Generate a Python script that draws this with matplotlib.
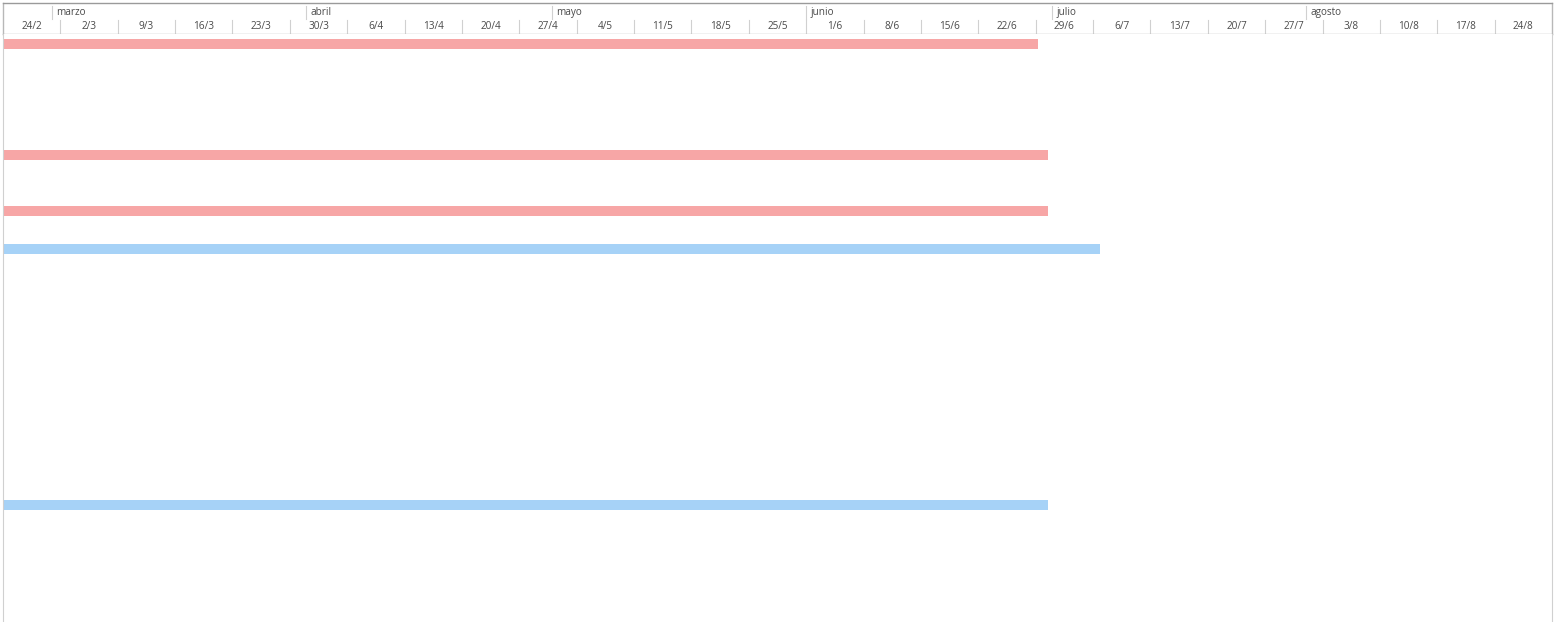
import pandas as pd
import matplotlib.pyplot as plt
import matplotlib.dates as mdates

plt.rcParams['font.family'] = ['Open Sans', 'DejaVu Sans']

# --- Data ---
task_lanes = [10, 121, 177, 215, 471]          # vertical lane (px from header)
task_start = ['2024-02-20'] * 5
task_end = ['2024-06-29 08:00', '2024-06-30 12:00', '2024-06-30 12:00',
            '2024-07-06 20:00', '2024-06-30 12:00']
task_group = ['a', 'a', 'a', 'b', 'b']
group_colors = {'a': '#f7a6a6', 'b': '#a6d2f7'}

month_names = ['marzo', 'abril', 'mayo', 'junio', 'julio', 'agosto']
month_starts = pd.to_datetime(['2024-03-01', '2024-04-01', '2024-05-01',
                               '2024-06-01', '2024-07-01', '2024-08-01'])
week_starts = pd.date_range('2024-02-24', '2024-08-24', freq='7D')
week_labels = [f"{d.day}/{d.month}" for d in week_starts]

x0 = pd.Timestamp('2024-02-24')
x1 = pd.Timestamp('2024-08-31')

W, H = 1559, 622
fig = plt.figure(figsize=(W / 100, H / 100), dpi=100)
left, right = 3 / W, 1552 / W
hdr_top, hdr_bot = 3, 34

# header
hx = fig.add_axes([left, 1 - hdr_bot / H, right - left, (hdr_bot - hdr_top) / H])
hx.set_xlim(x0, x1)
hx.set_ylim(0, 1)
for s in hx.spines.values():
    s.set_color('#b8b8b8')
    s.set_linewidth(1)
hx.spines['top'].set_color('#9a9a9a')
hx.set_xticks([]); hx.set_yticks([])

for d in week_starts[1:]:
    hx.axvline(d, ymin=0, ymax=0.45, color='#d0d0d0', lw=0.8)
for d, lab in zip(week_starts, week_labels):
    hx.text(d + pd.Timedelta(days=3.5), 0.07, lab, ha='center', va='bottom',
            fontsize=7.2, color='#4a4a4a')
for d, name in zip(month_starts, month_names):
    hx.axvline(d, ymin=0.5, ymax=0.9, color='#d0d0d0', lw=0.8)
    hx.text(d + pd.Timedelta(days=0.5), 0.53, name, ha='left', va='bottom',
            fontsize=7.2, color='#4a4a4a')

# body
ax = fig.add_axes([left, 0, right - left, (H - hdr_bot) / H])
ax.set_xlim(x0, x1)
ax.set_ylim(H - hdr_bot, 0)
for s in ['top', 'bottom']:
    ax.spines[s].set_visible(False)
ax.spines['left'].set_color('#d0d0d0')
ax.spines['right'].set_color('#d0d0d0')
ax.set_xticks([]); ax.set_yticks([])

starts = pd.to_datetime(task_start)
ends = pd.to_datetime(task_end)
for y, s, e, g in zip(task_lanes, starts, ends, task_group):
    ax.barh(y, mdates.date2num(e) - mdates.date2num(s), left=mdates.date2num(s),
            height=9.5, color=group_colors[g], edgecolor='none')

fig.savefig('out.png', dpi=100, facecolor='white')
